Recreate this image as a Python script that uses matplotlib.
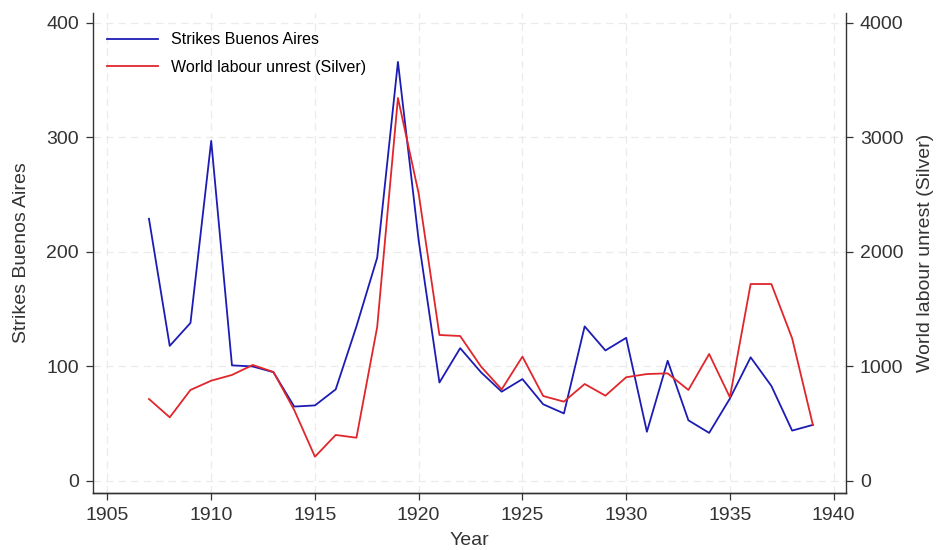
import matplotlib
matplotlib.use("Agg")
import matplotlib.pyplot as plt

years = list(range(1907, 1940))
strikes_ba = [229, 118, 138, 297, 101, 100, 95, 65, 66, 80, 135, 195, 366, 210,
              86, 116, 95, 78, 89, 67, 59, 135, 114, 125, 43, 105, 53, 42, 72,
              108, 83, 44, 49]
world_unrest = [716, 556, 795, 876, 926, 1013, 952, 620, 212, 402, 378, 1345, 3345,
                2510, 1275, 1266, 1000, 800, 1086, 742, 693, 847, 745, 906, 934,
                940, 795, 1109, 731, 1720, 1720, 1246, 490]

plt.rcParams['font.family'] = ['Liberation Sans', 'DejaVu Sans']

fig = plt.figure(figsize=(9.38, 5.5), dpi=100)
ax = fig.add_axes([0.0991, 0.1036, 0.8029, 0.8728])
ax2 = ax.twinx()

l1, = ax.plot(years, strikes_ba, color='#1c1cb4', lw=1.3, label='Strikes Buenos Aires')
l2, = ax2.plot(years, world_unrest, color='#e0262b', lw=1.3, label='World labour unrest (Silver)')

ax.set_xlim(1904.3, 1940.6)
ax.set_ylim(-10.5, 408.7)
ax2.set_ylim(-105, 4087)
ax.set_xticks(range(1905, 1941, 5))
ax.set_yticks([0, 100, 200, 300, 400])
ax2.set_yticks([0, 1000, 2000, 3000, 4000])

ax.grid(True, color='#ebebeb', ls=(0, (6, 4)), lw=0.9)
ax.set_axisbelow(True)

for a in (ax, ax2):
    a.spines['top'].set_visible(False)
    a.tick_params(labelsize=14, length=5, width=0.9, pad=5, colors='#333333')
    for s in a.spines.values():
        s.set_color('#333333')
        s.set_linewidth(1.0)
ax.spines['right'].set_visible(False)
ax2.spines['left'].set_visible(False)

ax.set_xlabel('Year', fontsize=14, color='#333333', labelpad=6)
ax.set_ylabel('Strikes Buenos Aires', fontsize=14, color='#333333', labelpad=12)
ax2.set_ylabel('World labour unrest (Silver)', fontsize=14, color='#333333', labelpad=10)

ax.legend(handles=[l1, l2], loc='upper left', frameon=False, fontsize=11.5,
          handlelength=3.2, labelspacing=0.8, bbox_to_anchor=(0.0, 0.99))

fig.savefig('out.png', dpi=100)
